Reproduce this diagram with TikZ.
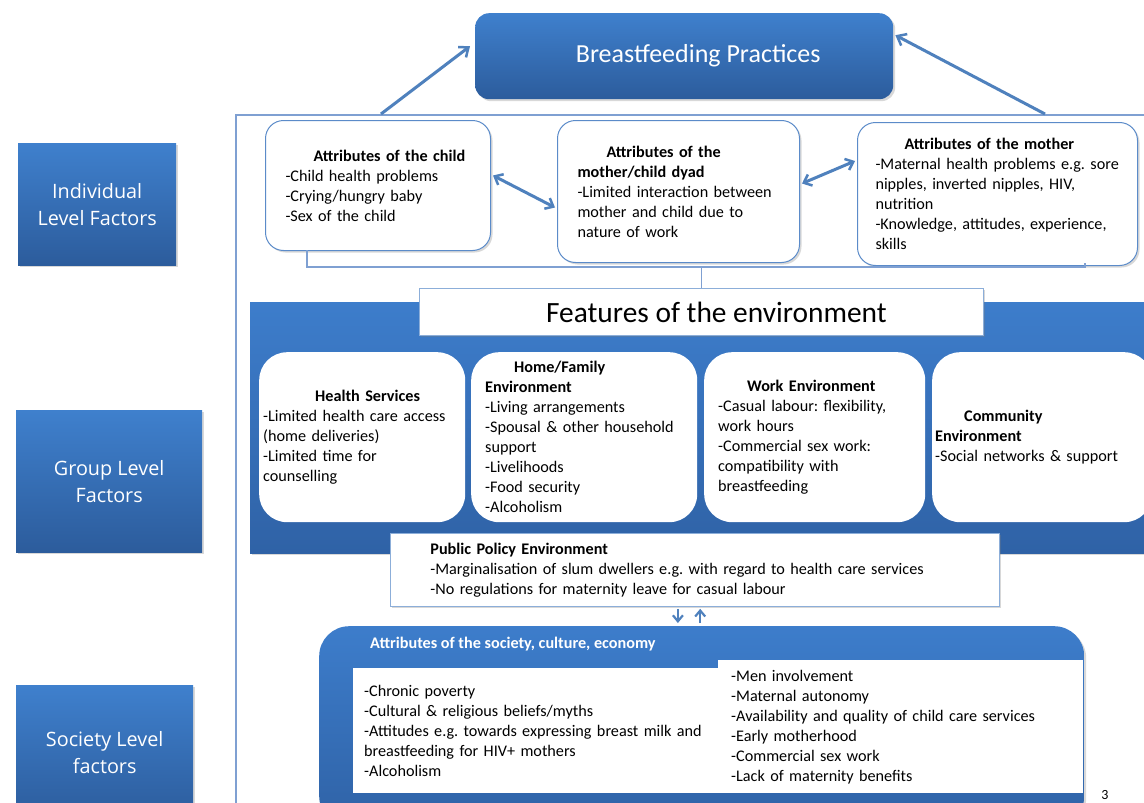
\documentclass[tikz,border=0pt]{standalone}
\usepackage{fontspec}
\setmainfont{Carlito}
\newfontfamily\labfont{Open Sans}
\usetikzlibrary{arrows.meta,shadows}
\definecolor{lvtop}{HTML}{3F80CD}
\definecolor{lvbot}{HTML}{2C5C9C}
\definecolor{bandtop}{HTML}{3D7DCB}
\definecolor{bandbot}{HTML}{2F62A6}
\definecolor{edge}{HTML}{5B8BC9}
\definecolor{framec}{HTML}{7FA0D2}
\definecolor{arrc}{HTML}{4F81BD}
\frenchspacing
\begin{document}
\begin{tikzpicture}[x=1pt,y=-1pt,
  body/.style={font=\fontsize{16.2}{20}\selectfont},
  lvl/.style={shading=axis, top color=lvtop, bottom color=lvbot, text=white,
    font=\labfont\fontsize{19.8}{27}\selectfont, align=center, inner sep=0pt,
    anchor=north west, drop shadow={opacity=0.3, shadow xshift=2pt, shadow yshift=-2pt}},
  ibox/.style={body, draw=edge, line width=1pt, fill=white, rounded corners=18pt,
    anchor=north west, align=left, inner ysep=0pt,
    drop shadow={opacity=0.3, shadow xshift=2pt, shadow yshift=-2pt}},
  gbox/.style={body, draw=none, fill=white, rounded corners=28pt,
    anchor=north west, align=left, inner ysep=0pt},
  wbox/.style={body, draw=edge!70, line width=0.8pt, fill=white,
    anchor=north west, align=left, inner ysep=0pt,
    drop shadow={opacity=0.3, shadow xshift=2pt, shadow yshift=-2pt}},
  bluebg/.style={shading=axis, top color=bandtop, bottom color=bandbot, draw=none,
    anchor=north west, inner sep=0pt,
    drop shadow={opacity=0.3, shadow xshift=2pt, shadow yshift=-2pt}},
  bigarr/.style={draw=arrc, line width=3pt, -{Straight Barb[length=8pt,width=13pt,line width=2.5pt]}},
  dblarr/.style={draw=arrc, line width=3pt, {Straight Barb[length=7pt,width=12pt,line width=2.5pt]}-{Straight Barb[length=7pt,width=12pt,line width=2.5pt]}},
  smallarr/.style={draw=arrc, line width=2.5pt, -{Straight Barb[length=6pt,width=10pt,line width=2.2pt]}},
  brk/.style={draw=framec, line width=1.5pt},
]
\useasboundingbox (0,0) rectangle (1144,803);
\fill[white] (0,0) rectangle (1144,803);

% level labels
\node[lvl, minimum width=158pt, minimum height=122pt] (ind) at (18,143) {Individual\\Level Factors};
\node[lvl, minimum width=186pt, minimum height=142pt] (grp) at (16,410) {Group Level\\Factors};
\node[lvl, minimum width=177pt, minimum height=135pt] (socl) at (16,685) {Society Level\\factors};

% frame
\coordinate (frTR) at (1144,115);
\coordinate (frTL) at (236,115);
\coordinate (frBL) at (236,803);
\draw[brk] (frTR) -- (frTL) -- (frBL);

% top box
\node[lvl, anchor=north west, rounded corners=14pt, minimum width=418pt, minimum height=86pt,
  font=\fontsize{26}{30}\selectfont] (bp) at (475,13) {\hspace*{28pt}Breastfeeding Practices};

% individual boxes
\node[ibox, minimum height=130pt, text width=185pt, inner xsep=20pt] (child) at (265,120)
  {\hspace*{28pt}\textbf{Attributes of the child}\\-Child health problems\\-Crying/hungry baby\\-Sex of the child};
\node[ibox, minimum height=142pt, text width=202pt, inner xsep=20pt] (dyad) at (557,120)
  {\hspace*{29pt}\textbf{Attributes of the}\\\textbf{mother/child dyad}\\-Limited interaction between\\mother and child due to\\nature of work};
\node[ibox, minimum height=143pt, text width=244pt, inner xsep=18pt] (mother) at (857,122)
  {\hspace*{29pt}\textbf{Attributes of the mother}\\-Maternal health problems e.g. sore\\nipples, inverted nipples, HIV,\\nutrition\\-Knowledge, attitudes, experience,\\skills};

% arrows to top box
\coordinate (a1) at (381,114);
\coordinate (a2) at (1045,114);
\draw[bigarr] (a1) -- ([xshift=-5pt,yshift=10pt]bp.west);
\draw[bigarr] (a2) -- ([xshift=2pt,yshift=21pt]bp.east);

% double arrows
\draw[dblarr] ([xshift=2pt,yshift=10pt]child.east) -- ([xshift=-2pt,yshift=-16pt]dyad.west);
\draw[dblarr] ([xshift=2pt,yshift=8pt]dyad.east) -- ([xshift=-2pt,yshift=33pt]mother.west);

% band and features
\node[bluebg, minimum width=900pt, minimum height=251pt] (band) at (250,302) {};
\coordinate (bL) at (307,250);
\coordinate (bR) at (1085,263);
\node[wbox, anchor=north west, minimum width=564pt, minimum height=47pt, inner sep=0pt, align=center,
  font=\fontsize{29.4}{32}\selectfont] (feat) at (419,288) {\hspace*{30pt}Features of the environment};
\draw[brk] (bL) -- (bL |- 0,267) -- (bR |- 0,267) -- (bR);
\draw[brk] (feat.north |- 0,267) -- (feat.north);

% group boxes
\node[gbox, minimum height=170pt, text width=198pt, inner xsep=4pt] (hs) at (259,352)
  {\hspace*{52pt}\textbf{Health Services}\\-Limited health care access\\(home deliveries)\\-Limited time for\\counselling};
\node[gbox, minimum height=170pt, text width=198pt, inner xsep=14pt] (home) at (471,352)
  {\hspace*{29pt}\textbf{Home/Family}\\\textbf{Environment}\\-Living arrangements\\-Spousal \& other household\\support\\-Livelihoods\\-Food security\\-Alcoholism};
\node[gbox, minimum height=170pt, text width=193pt, inner xsep=14pt] (work) at (704,352)
  {\hspace*{29pt}\textbf{Work Environment}\\-Casual labour: flexibility,\\work hours\\-Commercial sex work:\\compatibility with\\breastfeeding};
\node[gbox, minimum height=170pt, text width=214pt, inner xsep=3pt] (comm) at (932,352)
  {\hspace*{29pt}\textbf{Community}\\\textbf{Environment}\\-Social networks \& support};

% public policy
\node[wbox, minimum height=73pt, text width=529pt, inner xsep=40pt] (pol) at (390,533)
  {\textbf{Public Policy Environment}\\-Marginalisation of slum dwellers e.g. with regard to health care services\\-No regulations for maternity leave for casual labour};

% society
\node[bluebg, rounded corners=30pt, minimum width=765pt, minimum height=200pt] (soc) at (319,626) {};
\node[anchor=west, text=white, inner sep=0pt, font=\fontsize{16.2}{20}\selectfont\bfseries] (soct) at (370,644)
  {Attributes of the society, culture, economy};
\node[body, fill=white, anchor=north west, minimum height=125pt, text width=343pt, inner xsep=11pt, inner ysep=0pt, align=left] (socL) at (353,668)
  {-Chronic poverty\\-Cultural \& religious beliefs/myths\\-Attitudes e.g. towards expressing breast milk and\\breastfeeding for HIV+ mothers\\-Alcoholism};
\node[body, fill=white, anchor=north west, minimum height=133pt, text width=339pt, inner xsep=13pt, inner ysep=0pt, align=left] (socR) at (718,660)
  {-Men involvement\\-Maternal autonomy\\-Availability and quality of child care services\\-Early motherhood\\-Commercial sex work\\-Lack of maternity benefits};

% small arrows
\draw[smallarr] ([xshift=-17pt,yshift=-2pt]pol.south) -- ([xshift=-17pt,yshift=3pt]pol.south |- soc.north);
\draw[smallarr] ([xshift=-1.5pt,yshift=3pt]soc.north) -- ([xshift=-1.5pt,yshift=-2pt]soc.north |- pol.south);

\node[font=\fontsize{14}{16}\selectfont, anchor=center, inner sep=0pt] (pg) at (1105,795) {3};
\end{tikzpicture}
\end{document}
